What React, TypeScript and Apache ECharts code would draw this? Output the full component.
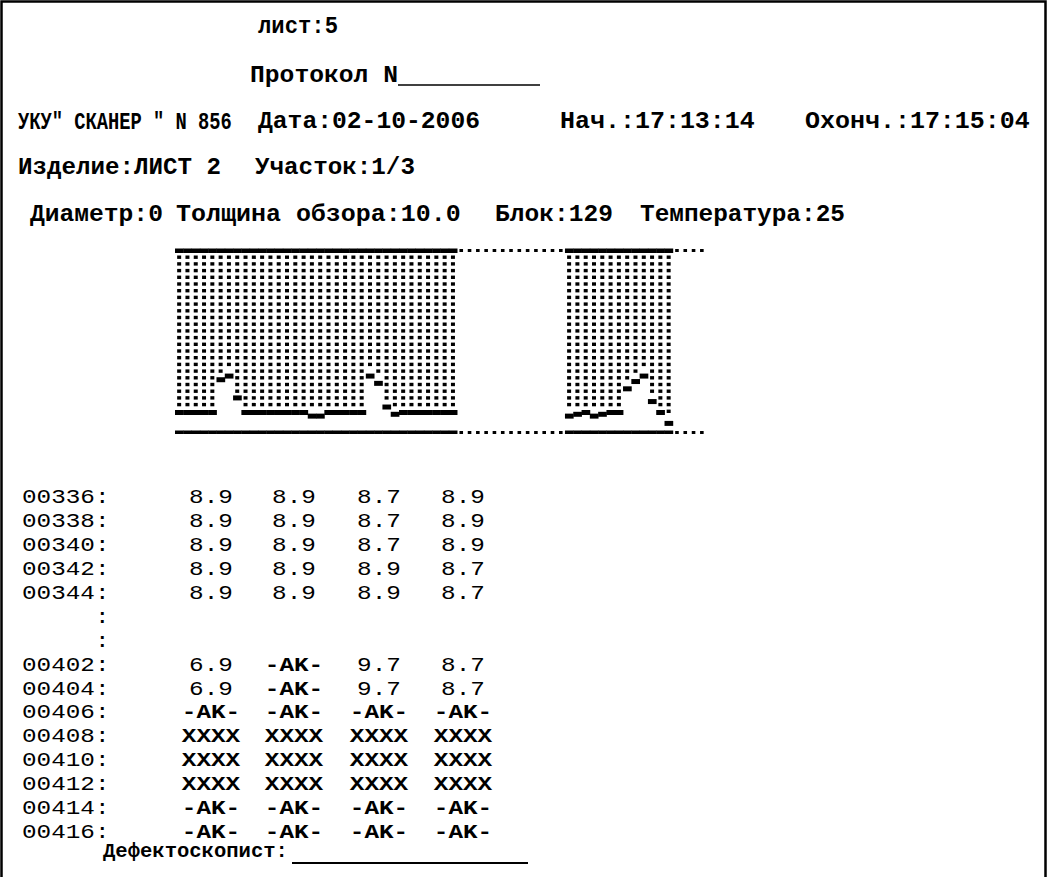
import React, { useEffect, useRef } from "react";
import * as echarts from "echarts";

// ---- data -------------------------------------------------------------
// scan columns of the B-scan strip (one dot column per scan step)
const scanColumns = [
  0, 1, 2, 3, 4, 5, 6, 7, 8, 9, 10, 11, 12, 13, 14, 15,
  16, 17, 18, 19, 20, 21, 22, 23, 24, 25, 26, 27, 28, 29, 30, 31,
  32, 33, 34, 35, 36, 37, 38, 39, 40, 41, 42, 43, 44, 45, 46, 47,
  48, 49, 50, 51, 52, 53, 54, 55, 56, 57, 58, 59, 60, 61, 62, 63,
];
// measured thickness (mm) per column, null = no acoustic contact
const thicknessMm: (number | null)[] = [
  8.9, 8.9, 8.9, 8.9, 8.9, 7.1, 6.9, 8.1, 8.9, 8.9, 8.9, 8.9, 8.9, 8.9, 8.9, 8.9,
  9.1, 9.1, 8.9, 8.9, 8.9, 8.9, 8.9, 6.9, 7.3, 8.6, 9.0, 8.9, 8.9, 8.9, 8.9, 8.9,
  8.9, 8.9, null, null, null, null, null, null, null, null, null, null, null, null,
  null, 9.1, 9.0, 8.9, 9.1, 9.0, 8.9, 8.9, 7.6, 7.2, 6.9, 8.3, 8.9, 9.5, null, null,
  null, null,
];
const viewDepthMm = 10.0;

const sheetLabel = "лист:5";
const protocolLabel = "Протокол N";
const headerSegments = ['УКУ" СКАНЕР " N 856', "Дата:02-10-2006", "Нач.:17:13:14", "Охонч.:17:15:04"];
const productSegments = ["Изделие:ЛИСТ 2", "Участок:1/3"];
const paramSegments = ["Диаметр:0", "Толщина обзора:10.0", "Блок:129", "Температура:25"];

const rowLabels = [
  "00336:", "00338:", "00340:", "00342:", "00344:", ":", ":",
  "00402:", "00404:", "00406:", "00408:", "00410:", "00412:", "00414:", "00416:",
];
const rowValues: string[][] = [
  ["8.9", "8.9", "8.7", "8.9"],
  ["8.9", "8.9", "8.7", "8.9"],
  ["8.9", "8.9", "8.7", "8.9"],
  ["8.9", "8.9", "8.9", "8.7"],
  ["8.9", "8.9", "8.9", "8.7"],
  [],
  [],
  ["6.9", "-AK-", "9.7", "8.7"],
  ["6.9", "-AK-", "9.7", "8.7"],
  ["-AK-", "-AK-", "-AK-", "-AK-"],
  ["XXXX", "XXXX", "XXXX", "XXXX"],
  ["XXXX", "XXXX", "XXXX", "XXXX"],
  ["XXXX", "XXXX", "XXXX", "XXXX"],
  ["-AK-", "-AK-", "-AK-", "-AK-"],
  ["-AK-", "-AK-", "-AK-", "-AK-"],
];
const signLabel = "Дефектоскопист:";

// ---- layout -------------------------------------------------------------
const FONT = '"Liberation Mono", "DejaVu Sans Mono", monospace';
const HEAD_SIZE = 24;
const TABLE_SIZE = 20;
const TABLE_PITCH = 14.6;

// [x, width] boxes for header segments
const headerBoxes = [[18, 214], [258, 222], [560, 195], [805, 225]];
const productBoxes = [[18, 203], [255, 160]];
const paramBoxes = [[30, 133], [176, 285], [495, 118], [640, 205]];
const colCenters = [211, 294, 379, 463];
const labelX = 22;
const tableTop = 498;
const rowStep = 23.9;

function txt(text: string, x: number, y: number, size: number, extra: any = {}) {
  const el: any = {
    type: "text",
    x,
    y,
    silent: true,
    style: {
      text,
      fill: "#000",
      fontFamily: FONT,
      fontSize: size,
      fontWeight: extra.bold ? "bold" : "normal",
      textAlign: extra.align || "left",
      textVerticalAlign: "middle",
    },
  };
  const natural = text.length * 0.6001 * size;
  if (extra.width) {
    el.scaleX = extra.width / natural;
  } else if (extra.pitch) {
    el.scaleX = extra.pitch / (0.6001 * size);
  }
  return el;
}

export default function App() {
  const ref = useRef<HTMLDivElement>(null);

  useEffect(() => {
    if (!ref.current) return;
    const chart = echarts.init(ref.current, undefined, { renderer: "svg" });

    const data = scanColumns.map((c, i) => {
      const v = thicknessMm[i];
      return [c, v == null ? 0 : v, v == null ? 0 : 1];
    });

    const renderItem = (_params: any, api: any) => {
      const i = api.value(0) as number;
      const d = api.value(1) as number;
      const has = api.value(2) as number;
      const tl = api.coord([i, 0]);
      const br = api.coord([i + 1, viewDepthMm]);
      const xl = tl[0];
      const yTop = tl[1];
      const xr = br[0];
      const yBase = br[1];
      const w = xr - xl + 0.4;
      const cx = (xl + xr) / 2;
      const black = { fill: "#000" };
      const kids: any[] = [];
      if (has) {
        const yD = api.coord([i, d])[1];
        kids.push({ type: "rect", shape: { x: xl, y: yTop - 1.5, width: w, height: 4.5 }, style: black });
        kids.push({ type: "rect", shape: { x: xl, y: yBase - 1.5, width: w, height: 3.5 }, style: black });
        for (let y = yTop + 5.5; y + 3.4 <= yD - 3.5; y += 6.7) {
          kids.push({ type: "rect", shape: { x: cx - 2, y, width: 4, height: 3.4 }, style: black });
        }
        kids.push({ type: "rect", shape: { x: xl, y: yD - 2, width: w, height: 5 }, style: black });
      } else {
        kids.push({ type: "rect", shape: { x: cx - 1.8, y: yTop - 1, width: 3.6, height: 3 }, style: black });
        kids.push({ type: "rect", shape: { x: cx - 1.8, y: yBase - 1, width: 3.6, height: 3 }, style: black });
      }
      return { type: "group", children: kids };
    };

    const graphics: any[] = [];
    // frame
    graphics.push({
      type: "rect",
      silent: true,
      shape: { x: 1.5, y: 1.5, width: 1044, height: 900 },
      style: { fill: "none", stroke: "#000", lineWidth: 2.5 },
    });
    graphics.push(txt(sheetLabel, 258, 27, HEAD_SIZE, { bold: true, width: 80 }));
    graphics.push(txt(protocolLabel, 250, 76, HEAD_SIZE, { bold: true, width: 148 }));
    graphics.push({
      type: "line",
      silent: true,
      shape: { x1: 398, y1: 85, x2: 540, y2: 85 },
      style: { stroke: "#000", lineWidth: 1.5 },
    });
    headerSegments.forEach((s, k) =>
      graphics.push(txt(s, headerBoxes[k][0], 122, HEAD_SIZE, { bold: true, width: headerBoxes[k][1] }))
    );
    productSegments.forEach((s, k) =>
      graphics.push(txt(s, productBoxes[k][0], 168, HEAD_SIZE, { bold: true, width: productBoxes[k][1] }))
    );
    paramSegments.forEach((s, k) =>
      graphics.push(txt(s, paramBoxes[k][0], 215, HEAD_SIZE, { bold: true, width: paramBoxes[k][1] }))
    );

    rowLabels.forEach((lab, r) => {
      const y = tableTop + r * rowStep;
      if (lab === ":") {
        graphics.push(txt(lab, labelX + 6 * TABLE_PITCH, y, TABLE_SIZE, { align: "right", pitch: TABLE_PITCH }));
      } else {
        graphics.push(txt(lab, labelX, y, TABLE_SIZE, { pitch: TABLE_PITCH }));
      }
      rowValues[r].forEach((v, c) => {
        const bold = v === "-AK-" || v === "XXXX";
        graphics.push(txt(v, colCenters[c], y, TABLE_SIZE, { align: "center", bold, pitch: TABLE_PITCH }));
      });
    });
    graphics.push(txt(signLabel, 103, 852, TABLE_SIZE, { bold: true, width: 185 }));
    graphics.push({
      type: "line",
      silent: true,
      shape: { x1: 292, y1: 863, x2: 528, y2: 863 },
      style: { stroke: "#000", lineWidth: 2 },
    });

    chart.setOption({
      animation: false,
      backgroundColor: "#fff",
      grid: { left: 175, right: 342, top: 250, bottom: 445, containLabel: false },
      xAxis: { type: "value", min: 0, max: scanColumns.length, show: false },
      yAxis: { type: "value", min: 0, max: viewDepthMm, inverse: true, show: false },
      series: [
        {
          type: "custom",
          renderItem,
          data,
          encode: { x: 0, y: 1 },
          clip: false,
          silent: true,
        },
      ],
      graphic: graphics,
    });

    return () => chart.dispose();
  }, []);

  return (
    <div
      ref={ref}
      style={{ position: "absolute", left: 0, top: 0, width: 1048, height: 877, background: "#fff" }}
    />
  );
}
